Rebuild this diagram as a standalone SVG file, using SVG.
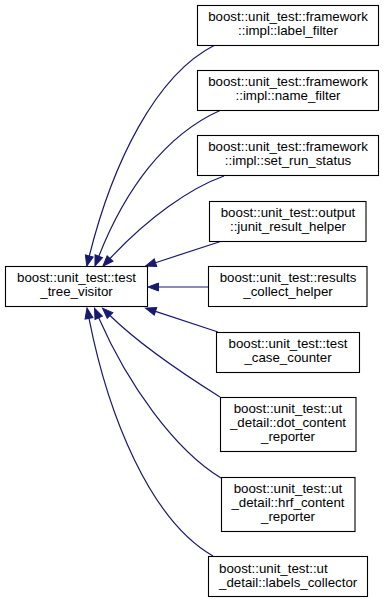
<svg xmlns="http://www.w3.org/2000/svg" width="384" height="601" viewBox="0 0 384 601">
  <style>
    .node rect { fill: #ffffff; stroke: #000000; stroke-width: 1.1; }
    .node text { font-family: "Liberation Sans", Arial, Helvetica, sans-serif; font-size: 13.3px; fill: #000000; text-anchor: middle; }
    .node text.left { text-anchor: start; }
    .edge { fill: none; stroke: #191970; stroke-width: 1.2; marker-end: url(#arrow); }
  </style>
  <defs>
    <marker id="arrow" markerUnits="userSpaceOnUse" markerWidth="12" markerHeight="10" refX="0" refY="0" viewBox="0 -5 12 10" orient="auto" overflow="visible">
      <path d="M0,-4 L10.5,0 L0,4 Z" fill="#191970" stroke="#191970" stroke-width="1"/>
    </marker>
  </defs>

  <rect x="0" y="0" width="384" height="601" fill="#ffffff"/>

  <!-- inheritance edges: each derived class points to test_tree_visitor -->
  <g id="edges">
    <path class="edge" d="M215,45 C155,75 112,165 89.3,256"/>
    <path class="edge" d="M220,110.5 C165,135 125,190 98.8,256.3"/>
    <path class="edge" d="M224,176 C190,188 148,218 110,258.5"/>
    <path class="edge" d="M222,241 L155.5,262.7"/>
    <path class="edge" d="M208,287 L158.5,287"/>
    <path class="edge" d="M218,332 L155.5,311.4"/>
    <path class="edge" d="M220,397 C185,375 140,345 110,315.5"/>
    <path class="edge" d="M221,478 C175,450 128,385 98.7,317.8"/>
    <path class="edge" d="M213,556 C150,520 108,415 89,318.3"/>
  </g>

  <g id="test_tree_visitor" class="node">
    <rect x="5.5" y="266.5" width="142" height="40"/>
    <text x="76.5" y="282.3">boost::unit_test::test</text>
    <text x="76.5" y="296">_tree_visitor</text>
  </g>

  <g id="label_filter" class="node">
    <rect x="197.5" y="5.5" width="181" height="40"/>
    <text x="288" y="21">boost::unit_test::framework</text>
    <text x="288" y="34.7">::impl::label_filter</text>
  </g>

  <g id="name_filter" class="node">
    <rect x="197.5" y="70.5" width="181" height="40"/>
    <text x="288" y="86">boost::unit_test::framework</text>
    <text x="288" y="99.7">::impl::name_filter</text>
  </g>

  <g id="set_run_status" class="node">
    <rect x="197.5" y="135.5" width="181" height="40"/>
    <text x="288" y="151">boost::unit_test::framework</text>
    <text x="288" y="164.7">::impl::set_run_status</text>
  </g>

  <g id="junit_result_helper" class="node">
    <rect x="209.5" y="201.5" width="156.5" height="40"/>
    <text x="288" y="217">boost::unit_test::output</text>
    <text x="288" y="230.7">::junit_result_helper</text>
  </g>

  <g id="results_collect_helper" class="node">
    <rect x="208.5" y="266.5" width="158.5" height="40"/>
    <text x="288" y="282">boost::unit_test::results</text>
    <text x="288" y="295.7">_collect_helper</text>
  </g>

  <g id="test_case_counter" class="node">
    <rect x="216.5" y="332.5" width="143" height="40"/>
    <text x="288" y="348">boost::unit_test::test</text>
    <text x="288" y="361.7">_case_counter</text>
  </g>

  <g id="dot_content_reporter" class="node">
    <rect x="220.5" y="397.5" width="135.5" height="54"/>
    <text x="288" y="412.5">boost::unit_test::ut</text>
    <text x="288" y="426.5">_detail::dot_content</text>
    <text x="288" y="440.5">_reporter</text>
  </g>

  <g id="hrf_content_reporter" class="node">
    <rect x="221.5" y="477.5" width="133.5" height="54"/>
    <text x="288" y="492.5">boost::unit_test::ut</text>
    <text x="288" y="506.5">_detail::hrf_content</text>
    <text x="288" y="520.5">_reporter</text>
  </g>

  <g id="labels_collector" class="node">
    <rect x="208.5" y="556.5" width="159" height="40"/>
    <text class="left" x="219" y="572.5">boost::unit_test::ut</text>
    <text class="left" x="219" y="586.5">_detail::labels_collector</text>
  </g>
</svg>
